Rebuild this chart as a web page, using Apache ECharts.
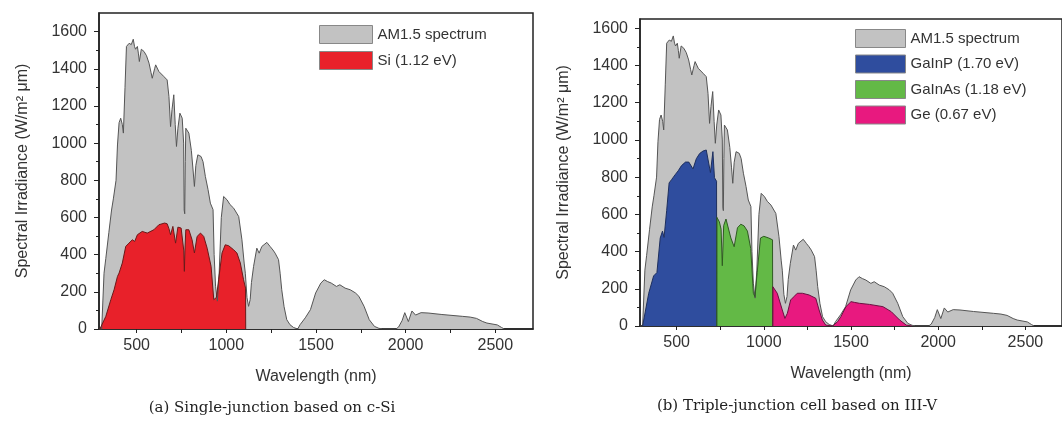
<!DOCTYPE html>
<html>
<head>
<meta charset="utf-8">
<script src="https://cdn.jsdelivr.net/npm/echarts@6.0.0/dist/echarts.min.js"></script>
<style>
html, body { margin: 0; padding: 0; background: #fff; }
#chart { width: 1062px; height: 427px; }
</style>
</head>
<body>
<div id="chart"></div>
<script>
// AM1.5 spectrum: [wavelength nm, W/m2 um]
var am15 = [[290,0],[305,0],[318,300],[328,380],[345,520],[360,640],[370,700],[385,800],[393,990],
  [402,1110],[411,1134],[420,1100],[426,1054],[435,1300],[443,1520],[458,1537],[470,1530],[481,1559],
  [488,1520],[494,1505],[504,1520],[510,1480],[515,1439],[526,1505],[541,1493],[555,1470],[569,1430],
  [580,1380],[587,1349],[600,1400],[606,1421],[624,1385],[652,1358],[670,1340],[680,1250],[689,1089],
  [697,1180],[707,1260],[715,1100],[722,982],[730,1080],[741,1161],[754,1134],[762,1000],[765,640],
  [768,620],[771,900],[774,1080],[791,1054],[805,960],[815,850],[822,767],[830,880],[841,937],[859,928],
  [870,900],[883,821],[898,750],[911,677],[926,642],[932,400],[940,230],[950,150],[960,300],[972,600],
  [985,713],[1004,695],[1020,670],[1041,650],[1069,605],[1087,480],[1100,350],[1106,300],[1115,170],
  [1124,122],[1133,158],[1140,250],[1152,337],[1170,435],[1183,408],[1198,444],[1226,466],[1244,444],
  [1260,425],[1272,408],[1291,373],[1300,300],[1309,211],[1322,120],[1337,50],[1355,23],[1375,8],
  [1385,0],[1398,0],[1411,23],[1440,60],[1469,104],[1498,194],[1527,247],[1546,265],[1565,255],
  [1585,247],[1614,229],[1633,238],[1662,220],[1691,211],[1720,194],[1739,176],[1768,122],[1797,50],
  [1826,14],[1850,4],[1870,0],[1945,0],[1960,10],[1980,45],[1995,88],[2015,40],[2035,97],[2055,75],
  [2086,88],[2125,86],[2202,78],[2318,68],[2360,64],[2395,57],[2430,40],[2453,32],[2511,22],[2535,8],[2550,0]];

// single junction c-Si share
var si = [[295,0],[304,5],[328,68],[356,158],[374,211],[393,283],[402,301],[411,292],[420,355],
  [439,444],[457,462],[476,480],[489,471],[504,507],[531,525],[559,516],[596,534],[624,561],[656,570],
  [670,566],[680,540],[689,507],[702,552],[717,462],[730,548],[748,543],[759,534],[763,420],[766,310],
  [769,420],[774,534],[791,534],[809,480],[822,409],[837,498],[856,516],[874,498],[893,435],[915,337],
  [930,158],[937,150],[945,170],[957,265],[976,409],[994,453],[1013,448],[1041,426],[1059,409],
  [1078,355],[1096,265],[1107,220],[1108,0]];

// triple junction sub-cells
var gainp = [[305,0],[340,176],[368,269],[387,287],[406,473],[419,510],[428,476],[443,621],[457,769],
  [472,788],[481,797],[494,816],[509,834],[528,862],[551,881],[570,881],[594,844],[613,899],[632,927],
  [651,940],[670,946],[679,937],[694,825],[708,937],[717,797],[729,778],[730,0]];
var gainas = [[730,0],[731,584],[745,560],[755,520],[762,324],[770,540],[783,575],[792,565],[811,473],
  [830,426],[849,528],[868,547],[887,538],[906,510],[925,417],[940,176],[949,158],[962,287],[981,473],
  [1000,482],[1028,473],[1050,463],[1051,0]];
var ge = [[1051,0],[1052,211],[1077,176],[1106,86],[1121,41],[1135,68],[1154,140],[1173,158],[1192,176],
  [1221,176],[1259,167],[1298,149],[1317,86],[1336,32],[1355,5],[1394,0],[1423,23],[1442,50],[1471,104],
  [1500,131],[1519,127],[1548,122],[1606,116],[1683,104],[1731,77],[1779,32],[1817,5],[1850,0]];

var xLabels = [500, 1000, 1500, 2000, 2500];
var xTicks = [500, 750, 1000, 1250, 1500, 1750, 2000, 2250, 2500];
var yLabels = [0, 200, 400, 600, 800, 1000, 1200, 1400, 1600];
var yMinor = [100, 300, 500, 700, 900, 1100, 1300, 1500];

var sans = 'Liberation Sans, Arial, sans-serif';
var txt = '#333';
var plain = function (v) { return String(v); };

function xAxis(g) {
  return {
    type: 'value', gridIndex: g, min: 290, max: 2710,
    name: 'Wavelength (nm)', nameLocation: 'middle', nameGap: 40,
    nameTextStyle: { fontFamily: sans, fontSize: 16, color: txt },
    axisLine: { lineStyle: { color: '#222', width: 1.5 } },
    axisTick: { customValues: xTicks, length: 4, lineStyle: { color: '#222' } },
    axisLabel: { customValues: xLabels, margin: 9, fontFamily: sans, fontSize: 16, color: txt, formatter: plain },
    splitLine: { show: false }
  };
}
function yAxis(g, max) {
  return {
    type: 'value', gridIndex: g, min: 0, max: max,
    name: 'Spectral Irradiance (W/m² μm)', nameLocation: 'middle', nameGap: 68,
    nameTextStyle: { fontFamily: sans, fontSize: 16, color: txt },
    axisLine: { show: true, lineStyle: { color: '#222', width: 1.5 } },
    axisTick: { customValues: yLabels, length: 5, lineStyle: { color: '#222' } },
    axisLabel: { customValues: yLabels, margin: 12, fontFamily: sans, fontSize: 16, color: txt, formatter: plain },
    splitLine: { show: false }
  };
}
function yMinorAxis(g, max) {
  return {
    type: 'value', gridIndex: g, min: 0, max: max, position: 'left',
    axisLine: { show: false },
    axisTick: { customValues: yMinor, length: 3, lineStyle: { color: '#222' } },
    axisLabel: { show: false },
    splitLine: { show: false }
  };
}
function area(name, data, xi, yi, fill, edge) {
  return {
    type: 'line', name: name, xAxisIndex: xi, yAxisIndex: yi, data: data,
    symbol: 'none', color: fill,
    lineStyle: { color: edge, width: 1 },
    areaStyle: { color: fill, opacity: 1 }
  };
}

var chart = echarts.init(document.getElementById('chart'));
chart.setOption({
  animation: false,
  grid: [
    { left: 99, top: 13, width: 434, height: 316, show: true, borderColor: '#222', borderWidth: 1.5 },
    { left: 640, top: 19, width: 424, height: 307, show: true, borderColor: '#222', borderWidth: 1.5 }
  ],
  xAxis: [xAxis(0), xAxis(1)],
  yAxis: [yAxis(0, 1700), yAxis(1, 1650), yMinorAxis(0, 1700), yMinorAxis(1, 1650)],
  legend: [
    {
      left: 319, top: 25, padding: 0, orient: 'vertical', icon: 'rect', itemWidth: 53, itemHeight: 18, itemGap: 7,
      itemStyle: { borderColor: '#888', borderWidth: 1 },
      textStyle: { fontFamily: sans, fontSize: 15, color: txt },
      data: ['AM1.5 spectrum', 'Si (1.12 eV)']
    },
    {
      left: 855, top: 29, padding: 0, orient: 'vertical', icon: 'rect', itemWidth: 50, itemHeight: 18, itemGap: 6.5,
      itemStyle: { borderColor: '#888', borderWidth: 1 },
      textStyle: { fontFamily: sans, fontSize: 15, color: txt },
      data: ['AM1.5 spectrum', 'GaInP (1.70 eV)', 'GaInAs (1.18 eV)', 'Ge (0.67 eV)']
    }
  ],
  graphic: [
    { type: 'text', x: 272, y: 408, style: { text: '(a) Single-junction based on c-Si', font: '15px "DejaVu Serif", serif', fill: '#222', align: 'center', verticalAlign: 'middle' } },
    { type: 'text', x: 797, y: 406, style: { text: '(b) Triple-junction cell based on III-V', font: '15px "DejaVu Serif", serif', fill: '#222', align: 'center', verticalAlign: 'middle' } }
  ],
  series: [
    area('AM1.5 spectrum', am15, 0, 0, '#c2c2c2', '#555'),
    area('Si (1.12 eV)', si, 0, 0, '#e8212a', '#6a1a1a'),
    area('AM1.5 spectrum', am15, 1, 1, '#c2c2c2', '#555'),
    area('GaInP (1.70 eV)', gainp, 1, 1, '#2f4d9e', '#1e2f5e'),
    area('GaInAs (1.18 eV)', gainas, 1, 1, '#63b946', '#2f5a22'),
    area('Ge (0.67 eV)', ge, 1, 1, '#e8197f', '#6a1040')
  ]
});
</script>
</body>
</html>
